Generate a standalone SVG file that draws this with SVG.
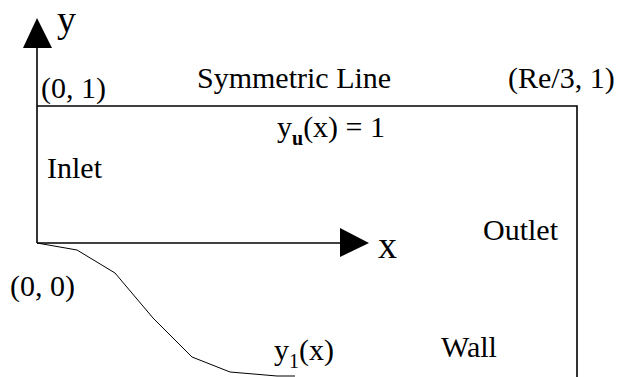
<svg xmlns="http://www.w3.org/2000/svg" width="623" height="377" viewBox="0 0 623 377">
<style>
text{font-family:"Liberation Serif","Times New Roman",serif;font-size:30px;fill:#000}
text.big{font-size:38px}
.sub{font-size:20px}
.ln{stroke:#000;stroke-width:1.6;fill:none}
.thin{stroke:#000;stroke-width:1;fill:none}
.ah{fill:#000}
</style>
<rect width="623" height="377" fill="#fff"/>
<g id="connectors">
<line class="ln" x1="37" y1="243" x2="37" y2="45"/>
<polygon class="ah" points="37,18 52,48 23,48"/>
<line class="ln" x1="37" y1="243" x2="345" y2="243"/>
<polygon class="ah" points="369,243 340,228 340,257"/>
</g>
<g id="domain">
<polyline class="ln" points="37,106 577,106 577,377"/>
</g>
<g id="wall-curve">
<polyline class="thin" points="37,243 77,250 115,273 153,318 192,357 230,372 277,376 295,376"/>
</g>
<g id="labels">
<text class="big" x="57" y="32">y</text>
<text class="big" x="378" y="258">x</text>
<text x="41" y="98">(0, 1)</text>
<text x="197" y="88">Symmetric Line</text>
<text x="508" y="88">(Re/3, 1)</text>
<text x="277" y="137">y<tspan class="sub" font-weight="bold" dy="8">u</tspan><tspan dy="-8">(x) = 1</tspan></text>
<text x="47" y="178">Inlet</text>
<text x="483" y="240">Outlet</text>
<text x="10" y="296">(0, 0)</text>
<text x="274" y="360">y<tspan class="sub" dy="8">1</tspan><tspan dy="-8">(x)</tspan></text>
<text x="441" y="357">Wall</text>
</g>
</svg>
